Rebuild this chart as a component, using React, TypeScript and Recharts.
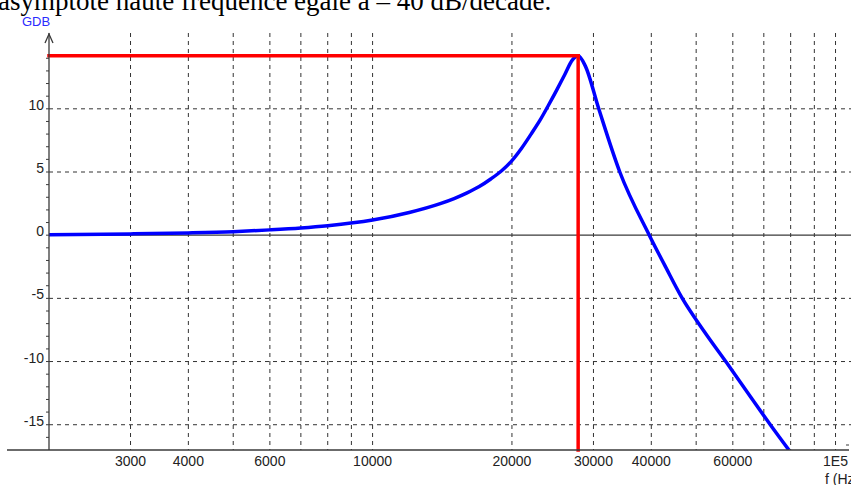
import React from 'react';
import { ComposedChart, Line, XAxis, YAxis, CartesianGrid, ReferenceLine } from 'recharts';

// frequency (Hz) and gain (dB)
const freqs = [
  2000, 3000, 4000, 5000, 6000, 7000, 8000, 10000, 12000, 14000, 15000, 16000, 17000, 18000,
  19000, 20000, 21000, 22000, 23000, 24000, 25000, 26000, 27000, 27800, 28800, 30800, 34200,
  39600, 43000, 46500, 52000, 58200, 65000, 72300, 79300,
];
const gdb = [
  0.03, 0.1, 0.18, 0.28, 0.42, 0.57, 0.75, 1.2, 1.8, 2.5, 2.9, 3.35, 3.85, 4.45,
  5.1, 5.9, 6.9, 8.0, 9.1, 10.3, 11.5, 12.7, 13.85, 14.2, 13.4, 10.0, 5.0,
  0, -2.55, -4.9, -7.6, -10.1, -12.6, -15.0, -17,
];

const peakFreq = 27800;
const peakGain = 14.2;

const xLabelTicks = [3000, 4000, 6000, 10000, 20000, 30000, 40000, 60000, 100000];
const xGrid = [
  3000, 4000, 5000, 6000, 7000, 8000, 9000, 10000, 20000, 30000, 40000, 50000, 60000, 70000,
  80000, 90000, 100000,
];
const yTicks = [
  -16, -15, -14, -13, -12, -11, -10, -9, -8, -7, -6, -5, -4, -3, -2, -1, 0, 1, 2, 3, 4, 5, 6, 7,
  8, 9, 10, 11, 12, 13, 14,
];
const yGrid = [-15, -10, -5, 5, 10];

const title = 'asymptote haute fréquence égale à – 40 dB/décade.';

const data = freqs.map((f, i) => ({ f, g: gdb[i] }));

const AXIS = '#3a3a3a';
const LABEL_FONT = '"Liberation Sans", Arial, sans-serif';

function XTick({ x, y, payload }: any) {
  const v = payload.value;
  return (
    <text x={x} y={y} dy="0.71em" textAnchor="middle" fill="#222" fontSize={14} fontFamily={LABEL_FONT}>
      {v === 100000 ? '1E5' : String(v)}
    </text>
  );
}

function YTick({ x, y, payload }: any) {
  const v = payload.value;
  if (v % 5 !== 0) return null;
  return (
    <text x={x} y={y} dy={1} textAnchor="end" fill="#222" fontSize={14} fontFamily={LABEL_FONT}>
      {String(v)}
    </text>
  );
}

function YAxisDecor({ viewBox }: any) {
  const ax = viewBox.x + viewBox.width;
  const top = viewBox.y;
  return (
    <g>
      <polyline points={`${ax - 4},${top + 10} ${ax},${top + 1} ${ax + 4},${top + 10}`} fill="none" stroke={AXIS} strokeWidth={1.3} />
      <text x={ax - 13} y={top - 7} textAnchor="middle" fill="#2b2bff" fontSize={13} fontFamily={LABEL_FONT}>
        GDB
      </text>
    </g>
  );
}

function XAxisDecor({ viewBox }: any) {
  const ay = viewBox.y;
  const right = viewBox.x + viewBox.width;
  return (
    <g>
      <line x1={7} y1={ay} x2={right - 2} y2={ay} stroke={AXIS} strokeWidth={1.3} />
      <line x1={right - 5} y1={ay - 5} x2={right - 2} y2={ay - 5} stroke={AXIS} strokeWidth={1} />
      <text x={right - 26} y={ay + 34} textAnchor="start" fill="#222" fontSize={14} fontFamily={LABEL_FONT}>
        f (Hz)
      </text>
    </g>
  );
}

export default function App() {
  return (
    <div style={{ position: 'absolute', left: 0, top: 0, width: 851, height: 485, background: '#fff', overflow: 'hidden' }}>
      <svg width={851} height={30} style={{ position: 'absolute', left: 0, top: 0 }}>
        <text x={-2} y={9.5} fontSize={27} fontFamily='"Liberation Serif", "Times New Roman", serif' fill="#000">
          {title}
        </text>
      </svg>
      <div style={{ position: 'absolute', left: 0, top: 0 }}>
        <ComposedChart width={851} height={485} data={data} margin={{ top: 33, right: 0, bottom: 0, left: 0 }}>
          <CartesianGrid
            stroke="#333"
            strokeDasharray="4 4"
            horizontalValues={yGrid}
            verticalValues={xGrid}
          />
          <XAxis
            dataKey="f"
            type="number"
            scale="log"
            domain={[2000, 108000]}
            allowDataOverflow
            ticks={xLabelTicks}
            interval={0}
            tickLine={false}
            axisLine={false}
            tickSize={0}
            tickMargin={6}
            height={35}
            tick={<XTick />}
            label={{ content: <XAxisDecor /> }}
          />
          <YAxis
            type="number"
            domain={[-17, 16]}
            allowDataOverflow
            ticks={yTicks}
            interval={0}
            width={49}
            tickSize={3}
            tickMargin={2}
            tickLine={{ stroke: AXIS }}
            axisLine={{ stroke: AXIS, strokeWidth: 1.3 }}
            tick={<YTick />}
            label={{ content: <YAxisDecor /> }}
          />
          <ReferenceLine y={0} stroke={AXIS} strokeWidth={1.2} />
          <Line
            dataKey="g"
            type="monotone"
            stroke="#0000ff"
            strokeWidth={3.5}
            dot={false}
            isAnimationActive={false}
          />
          <ReferenceLine
            segment={[{ x: 2000, y: peakGain }, { x: peakFreq, y: peakGain }]}
            stroke="#ff0000"
            strokeWidth={3.5}
            strokeLinecap="square"
          />
          <ReferenceLine
            segment={[{ x: peakFreq, y: peakGain }, { x: peakFreq, y: -17 }]}
            stroke="#ff0000"
            strokeWidth={3.5}
            strokeLinecap="square"
          />
        </ComposedChart>
      </div>
    </div>
  );
}
